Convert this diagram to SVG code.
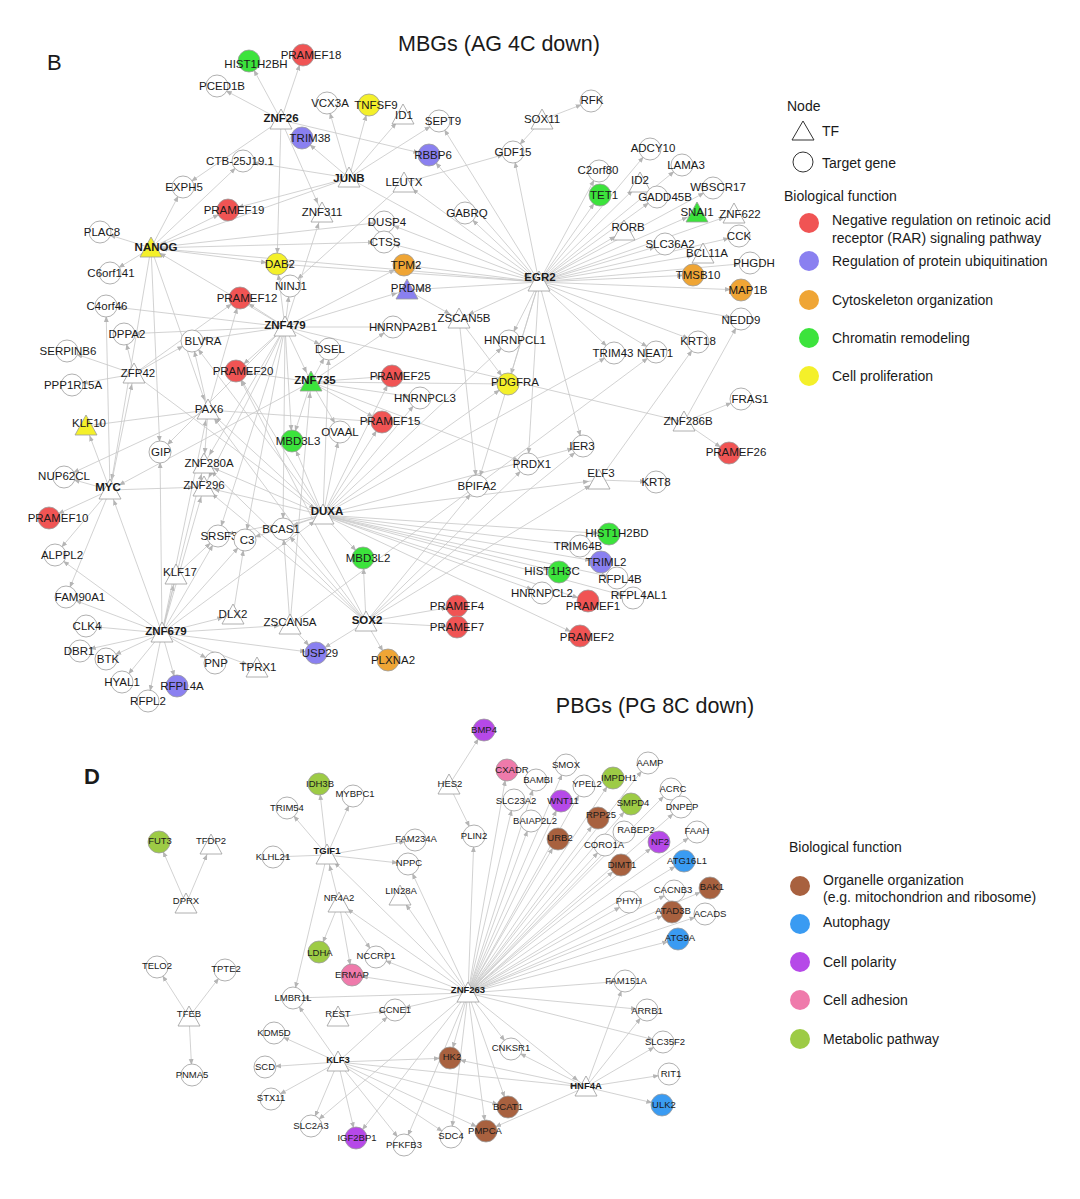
<svg xmlns="http://www.w3.org/2000/svg" xmlns:xlink="http://www.w3.org/1999/xlink" width="1080" height="1199" viewBox="0 0 1080 1199">
<style>
text{font-family:"Liberation Sans",Arial,sans-serif;fill:#1a1a1a}
.n text{font-size:11.5px;text-anchor:middle}
.s text{font-size:9.5px;text-anchor:middle}
.b{font-weight:bold}
.e line{stroke:#c6c6c6;stroke-width:0.8;marker-end:url(#a)}
.c{fill:#fff;stroke:#9c9c9c;stroke-width:0.8}
.red{fill:#f05454}.pur{fill:#8a80f0}.org{fill:#efa535}.grn{fill:#3ce33c}.yel{fill:#f4f02a}
.brn{fill:#a8613f}.blu{fill:#3a9bf2}.mag{fill:#b649e8}.pnk{fill:#ef7aab}.lgr{fill:#9dcb45}
.title{font-size:21.5px}
.lg{font-size:14px}
</style>
<defs>
<marker id="a" viewBox="0 0 20 6" refX="16" refY="3" markerWidth="20" markerHeight="6" markerUnits="userSpaceOnUse" orient="auto"><path d="M0,0.6 L6,3 L0,5.4z" fill="#b5b5b5"/></marker>
<path id="tri" d="M-11,9 L0,-11 L11,9z"/>
</defs>
<rect width="1080" height="1199" fill="#fff"/>
<text x="47" y="70" style="font-size:22px">B</text>
<text class="title" x="499" y="51" text-anchor="middle">MBGs (AG 4C down)</text>
<text x="84" y="784" style="font-size:22px;font-weight:bold">D</text>
<text class="title" x="655" y="713" text-anchor="middle">PBGs (PG 8C down)</text>

<g id="connectors" class="e">
<line x1="281" y1="120" x2="249" y2="61"/><line x1="281" y1="120" x2="303" y2="55"/><line x1="281" y1="120" x2="217" y2="86"/><line x1="281" y1="120" x2="183" y2="187"/><line x1="281" y1="120" x2="277" y2="264"/><line x1="281" y1="120" x2="322" y2="213"/><line x1="281" y1="120" x2="429" y2="155"/>
<line x1="349" y1="178" x2="327" y2="103"/><line x1="349" y1="178" x2="369" y2="105"/><line x1="349" y1="178" x2="403" y2="115"/><line x1="349" y1="178" x2="439" y2="121"/><line x1="349" y1="178" x2="302" y2="138"/><line x1="349" y1="178" x2="243" y2="161"/><line x1="349" y1="178" x2="539" y2="282"/><line x1="349" y1="178" x2="151" y2="248"/><line x1="349" y1="178" x2="228" y2="210"/>
<line x1="404" y1="183" x2="290" y2="286"/><line x1="404" y1="183" x2="513" y2="152"/><line x1="539" y1="282" x2="404" y2="183"/>
<line x1="151" y1="248" x2="100" y2="232"/><line x1="151" y1="248" x2="183" y2="187"/><line x1="151" y1="248" x2="243" y2="161"/><line x1="151" y1="248" x2="110" y2="273"/><line x1="151" y1="248" x2="277" y2="264"/><line x1="151" y1="248" x2="384" y2="222"/><line x1="151" y1="248" x2="384" y2="242"/><line x1="151" y1="248" x2="160" y2="452"/><line x1="151" y1="248" x2="228" y2="210"/><line x1="151" y1="248" x2="208" y2="410"/><line x1="151" y1="248" x2="110" y2="490"/><line x1="539" y1="282" x2="151" y2="248"/>
<line x1="285" y1="327" x2="240" y2="298"/><line x1="285" y1="327" x2="277" y2="264"/><line x1="285" y1="327" x2="290" y2="286"/><line x1="285" y1="327" x2="106" y2="306"/><line x1="285" y1="327" x2="124" y2="334"/><line x1="285" y1="327" x2="192" y2="341"/><line x1="285" y1="327" x2="236" y2="371"/><line x1="285" y1="327" x2="329" y2="349"/><line x1="285" y1="327" x2="292" y2="441"/><line x1="285" y1="327" x2="311" y2="382"/><line x1="285" y1="327" x2="407" y2="290"/><line x1="285" y1="327" x2="684" y2="422"/><line x1="285" y1="327" x2="404" y2="265"/><line x1="285" y1="327" x2="393" y2="327"/><line x1="285" y1="327" x2="204" y2="487"/><line x1="285" y1="327" x2="218" y2="536"/><line x1="285" y1="327" x2="283" y2="529"/><line x1="285" y1="327" x2="322" y2="213"/><line x1="285" y1="327" x2="151" y2="248"/><line x1="285" y1="327" x2="204" y2="464"/><line x1="285" y1="327" x2="245" y2="540"/><line x1="285" y1="327" x2="160" y2="452"/>
<line x1="311" y1="382" x2="329" y2="349"/><line x1="311" y1="382" x2="392" y2="376"/><line x1="311" y1="382" x2="420" y2="398"/><line x1="311" y1="382" x2="382" y2="422"/><line x1="311" y1="382" x2="340" y2="432"/><line x1="311" y1="382" x2="292" y2="441"/><line x1="311" y1="382" x2="508" y2="384"/><line x1="311" y1="382" x2="393" y2="327"/><line x1="311" y1="382" x2="528" y2="464"/><line x1="311" y1="382" x2="236" y2="371"/><line x1="311" y1="382" x2="110" y2="490"/>
<line x1="323" y1="515" x2="609" y2="534"/><line x1="323" y1="515" x2="580" y2="546"/><line x1="323" y1="515" x2="601" y2="562"/><line x1="323" y1="515" x2="559" y2="572"/><line x1="323" y1="515" x2="617" y2="578"/><line x1="323" y1="515" x2="633" y2="598"/><line x1="323" y1="515" x2="542" y2="593"/><line x1="323" y1="515" x2="588" y2="601"/><line x1="323" y1="515" x2="580" y2="636"/><line x1="323" y1="515" x2="363" y2="558"/><line x1="323" y1="515" x2="283" y2="529"/><line x1="323" y1="515" x2="218" y2="536"/><line x1="323" y1="515" x2="245" y2="540"/><line x1="323" y1="515" x2="292" y2="441"/><line x1="323" y1="515" x2="340" y2="432"/><line x1="323" y1="515" x2="382" y2="422"/><line x1="323" y1="515" x2="392" y2="376"/><line x1="323" y1="515" x2="420" y2="398"/><line x1="323" y1="515" x2="508" y2="384"/><line x1="323" y1="515" x2="509" y2="341"/><line x1="323" y1="515" x2="236" y2="371"/><line x1="323" y1="515" x2="204" y2="487"/><line x1="323" y1="515" x2="583" y2="446"/><line x1="323" y1="515" x2="208" y2="410"/><line x1="323" y1="515" x2="192" y2="341"/><line x1="323" y1="515" x2="329" y2="349"/><line x1="323" y1="515" x2="204" y2="464"/><line x1="323" y1="515" x2="599" y2="480"/><line x1="323" y1="515" x2="614" y2="353"/>
<line x1="110" y1="490" x2="64" y2="477"/><line x1="110" y1="490" x2="49" y2="518"/><line x1="110" y1="490" x2="55" y2="555"/><line x1="110" y1="490" x2="66" y2="597"/><line x1="110" y1="490" x2="86" y2="426"/><line x1="110" y1="490" x2="134" y2="374"/><line x1="110" y1="490" x2="204" y2="487"/><line x1="110" y1="490" x2="106" y2="306"/>
<line x1="162" y1="633" x2="110" y2="490"/><line x1="162" y1="633" x2="55" y2="555"/><line x1="162" y1="633" x2="66" y2="597"/><line x1="162" y1="633" x2="86" y2="626"/><line x1="162" y1="633" x2="80" y2="651"/><line x1="162" y1="633" x2="106" y2="659"/><line x1="162" y1="633" x2="122" y2="682"/><line x1="162" y1="633" x2="148" y2="701"/><line x1="162" y1="633" x2="177" y2="686"/><line x1="162" y1="633" x2="215" y2="663"/><line x1="162" y1="633" x2="176" y2="575"/><line x1="162" y1="633" x2="218" y2="536"/><line x1="162" y1="633" x2="245" y2="540"/><line x1="162" y1="633" x2="233" y2="615"/><line x1="162" y1="633" x2="290" y2="625"/><line x1="162" y1="633" x2="257" y2="668"/><line x1="162" y1="633" x2="316" y2="653"/><line x1="162" y1="633" x2="204" y2="487"/><line x1="162" y1="633" x2="204" y2="464"/><line x1="162" y1="633" x2="208" y2="410"/><line x1="162" y1="633" x2="160" y2="452"/><line x1="162" y1="633" x2="323" y2="515"/>
<line x1="366" y1="622" x2="363" y2="558"/><line x1="366" y1="622" x2="457" y2="606"/><line x1="366" y1="622" x2="457" y2="627"/><line x1="366" y1="622" x2="316" y2="653"/><line x1="366" y1="622" x2="388" y2="660"/><line x1="366" y1="622" x2="477" y2="486"/><line x1="366" y1="622" x2="528" y2="464"/><line x1="366" y1="622" x2="583" y2="446"/><line x1="366" y1="622" x2="599" y2="480"/><line x1="366" y1="622" x2="283" y2="529"/><line x1="366" y1="622" x2="204" y2="487"/><line x1="366" y1="622" x2="208" y2="410"/><line x1="366" y1="622" x2="204" y2="464"/><line x1="366" y1="622" x2="236" y2="371"/>
<line x1="290" y1="625" x2="316" y2="653"/><line x1="290" y1="625" x2="656" y2="352"/><line x1="290" y1="625" x2="283" y2="529"/><line x1="290" y1="625" x2="311" y2="382"/>
<line x1="233" y1="615" x2="245" y2="540"/><line x1="176" y1="575" x2="218" y2="536"/>
<line x1="134" y1="374" x2="124" y2="334"/><line x1="134" y1="374" x2="67" y2="351"/><line x1="134" y1="374" x2="72" y2="385"/><line x1="134" y1="374" x2="240" y2="298"/><line x1="134" y1="374" x2="192" y2="341"/><line x1="134" y1="374" x2="323" y2="515"/>
<line x1="208" y1="410" x2="192" y2="341"/><line x1="208" y1="410" x2="86" y2="426"/><line x1="208" y1="410" x2="64" y2="477"/><line x1="208" y1="410" x2="204" y2="464"/><line x1="208" y1="410" x2="382" y2="422"/><line x1="208" y1="410" x2="240" y2="298"/>
<line x1="684" y1="422" x2="741" y2="399"/><line x1="684" y1="422" x2="729" y2="453"/><line x1="684" y1="422" x2="741" y2="319"/>
<line x1="599" y1="480" x2="656" y2="482"/><line x1="599" y1="480" x2="698" y2="342"/>
<line x1="459" y1="319" x2="477" y2="486"/><line x1="459" y1="319" x2="508" y2="384"/><line x1="407" y1="290" x2="459" y2="319"/>
<line x1="542" y1="120" x2="513" y2="152"/><line x1="542" y1="120" x2="591" y2="101"/>
<line x1="539" y1="282" x2="439" y2="121"/><line x1="539" y1="282" x2="429" y2="155"/><line x1="539" y1="282" x2="513" y2="152"/><line x1="539" y1="282" x2="465" y2="213"/><line x1="539" y1="282" x2="384" y2="222"/><line x1="539" y1="282" x2="384" y2="242"/><line x1="539" y1="282" x2="404" y2="265"/><line x1="539" y1="282" x2="277" y2="264"/><line x1="539" y1="282" x2="407" y2="290"/><line x1="539" y1="282" x2="599" y2="171"/><line x1="539" y1="282" x2="600" y2="195"/><line x1="539" y1="282" x2="640" y2="183"/><line x1="539" y1="282" x2="650" y2="149"/><line x1="539" y1="282" x2="682" y2="165"/><line x1="539" y1="282" x2="657" y2="197"/><line x1="539" y1="282" x2="713" y2="188"/><line x1="539" y1="282" x2="697" y2="213"/><line x1="539" y1="282" x2="734" y2="214"/><line x1="539" y1="282" x2="624" y2="231"/><line x1="539" y1="282" x2="665" y2="244"/><line x1="539" y1="282" x2="739" y2="236"/><line x1="539" y1="282" x2="703" y2="254"/><line x1="539" y1="282" x2="750" y2="263"/><line x1="539" y1="282" x2="693" y2="275"/><line x1="539" y1="282" x2="741" y2="290"/><line x1="539" y1="282" x2="741" y2="319"/><line x1="539" y1="282" x2="614" y2="353"/><line x1="539" y1="282" x2="656" y2="352"/><line x1="539" y1="282" x2="698" y2="342"/><line x1="539" y1="282" x2="509" y2="341"/><line x1="539" y1="282" x2="508" y2="384"/><line x1="539" y1="282" x2="528" y2="464"/><line x1="539" y1="282" x2="583" y2="446"/><line x1="539" y1="282" x2="459" y2="319"/><line x1="539" y1="282" x2="477" y2="486"/>

<line x1="449" y1="785" x2="484" y2="730"/><line x1="449" y1="785" x2="474" y2="836"/>
<line x1="468" y1="993" x2="474" y2="836"/><line x1="468" y1="993" x2="507" y2="770"/><line x1="468" y1="993" x2="514" y2="800"/><line x1="468" y1="993" x2="536" y2="780"/><line x1="468" y1="993" x2="531" y2="821"/><line x1="468" y1="993" x2="566" y2="765"/><line x1="468" y1="993" x2="561" y2="801"/><line x1="468" y1="993" x2="558" y2="839"/><line x1="468" y1="993" x2="584" y2="786"/><line x1="468" y1="993" x2="613" y2="778"/><line x1="468" y1="993" x2="598" y2="818"/><line x1="468" y1="993" x2="648" y2="763"/><line x1="468" y1="993" x2="631" y2="804"/><line x1="468" y1="993" x2="605" y2="845"/><line x1="468" y1="993" x2="624" y2="832"/><line x1="468" y1="993" x2="671" y2="789"/><line x1="468" y1="993" x2="681" y2="807"/><line x1="468" y1="993" x2="621" y2="865"/><line x1="468" y1="993" x2="659" y2="842"/><line x1="468" y1="993" x2="697" y2="832"/><line x1="468" y1="993" x2="684" y2="861"/><line x1="468" y1="993" x2="629" y2="902"/><line x1="468" y1="993" x2="674" y2="891"/><line x1="468" y1="993" x2="710" y2="888"/><line x1="468" y1="993" x2="672" y2="912"/><line x1="468" y1="993" x2="705" y2="914"/><line x1="468" y1="993" x2="678" y2="939"/><line x1="468" y1="993" x2="625" y2="981"/><line x1="468" y1="993" x2="647" y2="1010"/><line x1="468" y1="993" x2="663" y2="1042"/><line x1="468" y1="993" x2="511" y2="1049"/><line x1="468" y1="993" x2="450" y2="1058"/><line x1="468" y1="993" x2="508" y2="1107"/><line x1="468" y1="993" x2="486" y2="1131"/><line x1="468" y1="993" x2="451" y2="1137"/><line x1="468" y1="993" x2="356" y2="1138"/><line x1="468" y1="993" x2="404" y2="1145"/><line x1="468" y1="993" x2="293" y2="998"/><line x1="468" y1="993" x2="352" y2="975"/><line x1="468" y1="993" x2="376" y2="957"/><line x1="468" y1="993" x2="339" y2="903"/><line x1="468" y1="993" x2="400" y2="896"/><line x1="468" y1="993" x2="408" y2="864"/><line x1="468" y1="993" x2="327" y2="855"/><line x1="468" y1="993" x2="395" y2="1010"/><line x1="468" y1="993" x2="311" y2="1126"/><line x1="468" y1="993" x2="586" y2="1087"/>
<line x1="327" y1="855" x2="319" y2="784"/><line x1="327" y1="855" x2="287" y2="808"/><line x1="327" y1="855" x2="353" y2="796"/><line x1="327" y1="855" x2="273" y2="857"/><line x1="327" y1="855" x2="415" y2="840"/><line x1="327" y1="855" x2="408" y2="864"/><line x1="327" y1="855" x2="293" y2="998"/>
<line x1="339" y1="903" x2="327" y2="855"/><line x1="339" y1="903" x2="319" y2="952"/><line x1="339" y1="903" x2="352" y2="975"/><line x1="339" y1="903" x2="376" y2="957"/>
<line x1="338" y1="1062" x2="293" y2="998"/><line x1="338" y1="1062" x2="274" y2="1033"/><line x1="338" y1="1062" x2="265" y2="1067"/><line x1="338" y1="1062" x2="271" y2="1099"/><line x1="338" y1="1062" x2="311" y2="1126"/><line x1="338" y1="1062" x2="356" y2="1138"/><line x1="338" y1="1062" x2="404" y2="1145"/><line x1="338" y1="1062" x2="451" y2="1137"/><line x1="338" y1="1062" x2="395" y2="1010"/><line x1="338" y1="1062" x2="450" y2="1058"/><line x1="338" y1="1062" x2="486" y2="1131"/><line x1="338" y1="1062" x2="508" y2="1107"/><line x1="338" y1="1062" x2="586" y2="1087"/>
<line x1="338" y1="1017" x2="395" y2="1010"/>
<line x1="586" y1="1087" x2="625" y2="981"/><line x1="586" y1="1087" x2="647" y2="1010"/><line x1="586" y1="1087" x2="663" y2="1042"/><line x1="586" y1="1087" x2="669" y2="1074"/><line x1="586" y1="1087" x2="662" y2="1105"/><line x1="586" y1="1087" x2="486" y2="1131"/><line x1="586" y1="1087" x2="511" y2="1049"/><line x1="586" y1="1087" x2="450" y2="1058"/>
<line x1="186" y1="904" x2="159" y2="842"/><line x1="186" y1="904" x2="211" y2="845"/>
<line x1="189" y1="1017" x2="157" y2="967"/><line x1="189" y1="1017" x2="225" y2="970"/><line x1="189" y1="1017" x2="192" y2="1075"/>
</g>

<g class="n">
<g id="HIST1H2BH"><circle class="c grn" cx="249" cy="61" r="11"/><text x="256" y="68">HIST1H2BH</text></g>
<g id="PRAMEF18"><circle class="c red" cx="303" cy="55" r="11"/><text x="311" y="59">PRAMEF18</text></g>
<g id="PCED1B"><circle class="c" cx="217" cy="86" r="11"/><text x="222" y="90">PCED1B</text></g>
<g id="ZNF26"><use href="#tri" class="c" x="281" y="120"/><text class="b" x="281" y="122">ZNF26</text></g>
<g id="VCX3A"><circle class="c" cx="327" cy="103" r="11"/><text x="330" y="107">VCX3A</text></g>
<g id="TNFSF9"><circle class="c yel" cx="369" cy="105" r="11"/><text x="376" y="109">TNFSF9</text></g>
<g id="ID1"><use href="#tri" class="c" x="403" y="115"/><text x="404" y="119">ID1</text></g>
<g id="SEPT9"><circle class="c" cx="439" cy="121" r="11"/><text x="443" y="125">SEPT9</text></g>
<g id="SOX11"><use href="#tri" class="c" x="542" y="120"/><text x="542" y="123">SOX11</text></g>
<g id="RFK"><circle class="c" cx="591" cy="101" r="11"/><text x="592" y="104">RFK</text></g>
<g id="TRIM38"><circle class="c pur" cx="302" cy="138" r="11"/><text x="310" y="142">TRIM38</text></g>
<g id="RBBP6"><circle class="c pur" cx="429" cy="155" r="11"/><text x="433" y="159">RBBP6</text></g>
<g id="GDF15"><circle class="c" cx="513" cy="152" r="11"/><text x="513" y="156">GDF15</text></g>
<g id="CTB-25J19.1"><circle class="c" cx="243" cy="161" r="11"/><text x="240" y="165">CTB-25J19.1</text></g>
<g id="JUNB"><use href="#tri" class="c" x="349" y="178"/><text class="b" x="349" y="182">JUNB</text></g>
<g id="LEUTX"><use href="#tri" class="c" x="404" y="183"/><text x="404" y="186">LEUTX</text></g>
<g id="EXPH5"><circle class="c" cx="183" cy="187" r="11"/><text x="184" y="191">EXPH5</text></g>
<g id="PRAMEF19"><circle class="c red" cx="228" cy="210" r="11"/><text x="234" y="214">PRAMEF19</text></g>
<g id="ZNF311"><use href="#tri" class="c" x="322" y="213"/><text x="322" y="216">ZNF311</text></g>
<g id="GABRQ"><circle class="c" cx="465" cy="213" r="11"/><text x="467" y="217">GABRQ</text></g>
<g id="DUSP4"><circle class="c" cx="384" cy="222" r="11"/><text x="387" y="226">DUSP4</text></g>
<g id="PLAC8"><circle class="c" cx="100" cy="232" r="11"/><text x="102" y="236">PLAC8</text></g>
<g id="NANOG"><use href="#tri" class="c yel" x="151" y="248"/><text class="b" x="156" y="251">NANOG</text></g>
<g id="CTSS"><circle class="c" cx="384" cy="242" r="11"/><text x="385" y="246">CTSS</text></g>
<g id="DAB2"><circle class="c yel" cx="277" cy="264" r="11"/><text x="280" y="268">DAB2</text></g>
<g id="TPM2"><circle class="c org" cx="404" cy="265" r="11"/><text x="406" y="269">TPM2</text></g>
<g id="C6orf141"><circle class="c" cx="110" cy="273" r="11"/><text x="111" y="277">C6orf141</text></g>
<g id="NINJ1"><circle class="c" cx="290" cy="286" r="11"/><text x="291" y="290">NINJ1</text></g>
<g id="PRDM8"><use href="#tri" class="c pur" x="407" y="290"/><text x="411" y="292">PRDM8</text></g>
<g id="EGR2"><use href="#tri" class="c" x="539" y="282"/><text class="b" x="540" y="281">EGR2</text></g>
<g id="C4orf46"><circle class="c" cx="106" cy="306" r="11"/><text x="107" y="310">C4orf46</text></g>
<g id="PRAMEF12"><circle class="c red" cx="240" cy="298" r="11"/><text x="247" y="302">PRAMEF12</text></g>
<g id="ZSCAN5B"><use href="#tri" class="c" x="459" y="319"/><text x="464" y="322">ZSCAN5B</text></g>
<g id="ZNF479"><use href="#tri" class="c" x="285" y="327"/><text class="b" x="285" y="329">ZNF479</text></g>
<g id="DPPA2"><circle class="c" cx="124" cy="334" r="11"/><text x="127" y="338">DPPA2</text></g>
<g id="HNRNPA2B1"><circle class="c" cx="393" cy="327" r="11"/><text x="403" y="331">HNRNPA2B1</text></g>
<g id="BLVRA"><circle class="c" cx="192" cy="341" r="11"/><text x="203" y="345">BLVRA</text></g>
<g id="HNRNPCL1"><circle class="c" cx="509" cy="341" r="11"/><text x="515" y="344">HNRNPCL1</text></g>
<g id="DSEL"><circle class="c" cx="329" cy="349" r="11"/><text x="330" y="353">DSEL</text></g>
<g id="SERPINB6"><circle class="c" cx="67" cy="351" r="11"/><text x="68" y="355">SERPINB6</text></g>
<g id="ZFP42"><use href="#tri" class="c" x="134" y="374"/><text x="138" y="377">ZFP42</text></g>
<g id="PRAMEF20"><circle class="c red" cx="236" cy="371" r="11"/><text x="243" y="375">PRAMEF20</text></g>
<g id="ZNF735"><use href="#tri" class="c grn" x="311" y="382"/><text class="b" x="315" y="384">ZNF735</text></g>
<g id="PRAMEF25"><circle class="c red" cx="392" cy="376" r="11"/><text x="400" y="380">PRAMEF25</text></g>
<g id="PDGFRA"><circle class="c yel" cx="508" cy="384" r="11"/><text x="515" y="386">PDGFRA</text></g>
<g id="PPP1R15A"><circle class="c" cx="72" cy="385" r="11"/><text x="73" y="389">PPP1R15A</text></g>
<g id="HNRNPCL3"><circle class="c" cx="420" cy="398" r="11"/><text x="425" y="402">HNRNPCL3</text></g>
<g id="PAX6"><use href="#tri" class="c" x="208" y="410"/><text x="209" y="413">PAX6</text></g>
<g id="KLF10"><use href="#tri" class="c yel" x="86" y="426"/><text x="89" y="427">KLF10</text></g>
<g id="PRAMEF15"><circle class="c red" cx="382" cy="422" r="11"/><text x="390" y="425">PRAMEF15</text></g>
<g id="MBD3L3"><circle class="c grn" cx="292" cy="441" r="11"/><text x="298" y="445">MBD3L3</text></g>
<g id="OVAAL"><circle class="c" cx="340" cy="432" r="11"/><text x="340" y="436">OVAAL</text></g>
<g id="GIP"><circle class="c" cx="160" cy="452" r="11"/><text x="161" y="456">GIP</text></g>
<g id="ZNF280A"><use href="#tri" class="c" x="204" y="464"/><text x="209" y="467">ZNF280A</text></g>
<g id="NUP62CL"><circle class="c" cx="64" cy="477" r="11"/><text x="64" y="480">NUP62CL</text></g>
<g id="MYC"><use href="#tri" class="c" x="110" y="490"/><text class="b" x="108" y="491">MYC</text></g>
<g id="ZNF296"><use href="#tri" class="c" x="204" y="487"/><text x="204" y="489">ZNF296</text></g>
<g id="DUXA"><use href="#tri" class="c" x="323" y="515"/><text class="b" x="327" y="515">DUXA</text></g>
<g id="PRDX1"><circle class="c" cx="528" cy="464" r="11"/><text x="532" y="468">PRDX1</text></g>
<g id="BPIFA2"><circle class="c" cx="477" cy="486" r="11"/><text x="477" y="490">BPIFA2</text></g>
<g id="PRAMEF10"><circle class="c red" cx="49" cy="518" r="11"/><text x="58" y="522">PRAMEF10</text></g>
<g id="BCAS1"><circle class="c" cx="283" cy="529" r="11"/><text x="281" y="533">BCAS1</text></g>
<g id="SRSF3"><circle class="c" cx="218" cy="536" r="11"/><text x="219" y="540">SRSF3</text></g>
<g id="C3"><circle class="c" cx="245" cy="540" r="11"/><text x="247" y="544">C3</text></g>
<g id="ALPPL2"><circle class="c" cx="55" cy="555" r="11"/><text x="62" y="559">ALPPL2</text></g>
<g id="MBD3L2"><circle class="c grn" cx="363" cy="558" r="11"/><text x="368" y="562">MBD3L2</text></g>
<g id="KLF17"><use href="#tri" class="c" x="176" y="575"/><text x="180" y="576">KLF17</text></g>
<g id="FAM90A1"><circle class="c" cx="66" cy="597" r="11"/><text x="80" y="601">FAM90A1</text></g>
<g id="DLX2"><use href="#tri" class="c" x="233" y="615"/><text x="233" y="618">DLX2</text></g>
<g id="ZSCAN5A"><use href="#tri" class="c" x="290" y="625"/><text x="290" y="626">ZSCAN5A</text></g>
<g id="SOX2"><use href="#tri" class="c" x="366" y="622"/><text class="b" x="367" y="624">SOX2</text></g>
<g id="CLK4"><circle class="c" cx="86" cy="626" r="11"/><text x="87" y="630">CLK4</text></g>
<g id="ZNF679"><use href="#tri" class="c" x="162" y="633"/><text class="b" x="166" y="635">ZNF679</text></g>
<g id="DBR1"><circle class="c" cx="80" cy="651" r="11"/><text x="79" y="655">DBR1</text></g>
<g id="BTK"><circle class="c" cx="106" cy="659" r="11"/><text x="108" y="663">BTK</text></g>
<g id="PNP"><circle class="c" cx="215" cy="663" r="11"/><text x="216" y="667">PNP</text></g>
<g id="TPRX1"><use href="#tri" class="c" x="257" y="668"/><text x="258" y="671">TPRX1</text></g>
<g id="USP29"><circle class="c pur" cx="316" cy="653" r="11"/><text x="320" y="657">USP29</text></g>
<g id="PLXNA2"><circle class="c org" cx="388" cy="660" r="11"/><text x="393" y="664">PLXNA2</text></g>
<g id="HYAL1"><circle class="c" cx="122" cy="682" r="11"/><text x="122" y="686">HYAL1</text></g>
<g id="RFPL4A"><circle class="c pur" cx="177" cy="686" r="11"/><text x="182" y="690">RFPL4A</text></g>
<g id="RFPL2"><circle class="c" cx="148" cy="701" r="11"/><text x="148" y="705">RFPL2</text></g>
<g id="PRAMEF4"><circle class="c red" cx="457" cy="606" r="11"/><text x="457" y="610">PRAMEF4</text></g>
<g id="PRAMEF7"><circle class="c red" cx="457" cy="627" r="11"/><text x="457" y="631">PRAMEF7</text></g>
<g id="HNRNPCL2"><circle class="c" cx="542" cy="593" r="11"/><text x="542" y="597">HNRNPCL2</text></g>
<g id="HIST1H3C"><circle class="c grn" cx="559" cy="572" r="11"/><text x="552" y="575">HIST1H3C</text></g>
<g id="HIST1H2BD"><circle class="c grn" cx="609" cy="534" r="11"/><text x="617" y="537">HIST1H2BD</text></g>
<g id="TRIM64B"><circle class="c" cx="580" cy="546" r="11"/><text x="578" y="550">TRIM64B</text></g>
<g id="TRIML2"><circle class="c pur" cx="601" cy="562" r="11"/><text x="606" y="566">TRIML2</text></g>
<g id="RFPL4B"><circle class="c" cx="617" cy="578" r="11"/><text x="620" y="583">RFPL4B</text></g>
<g id="RFPL4AL1"><circle class="c" cx="633" cy="598" r="11"/><text x="639" y="599">RFPL4AL1</text></g>
<g id="PRAMEF1"><circle class="c red" cx="588" cy="601" r="11"/><text x="593" y="610">PRAMEF1</text></g>
<g id="PRAMEF2"><circle class="c red" cx="580" cy="636" r="11"/><text x="587" y="641">PRAMEF2</text></g>
<g id="ADCY10"><circle class="c" cx="650" cy="149" r="11"/><text x="653" y="152">ADCY10</text></g>
<g id="C2orf80"><circle class="c" cx="599" cy="171" r="11"/><text x="598" y="174">C2orf80</text></g>
<g id="LAMA3"><circle class="c" cx="682" cy="165" r="11"/><text x="686" y="169">LAMA3</text></g>
<g id="ID2"><use href="#tri" class="c" x="640" y="183"/><text x="640" y="184">ID2</text></g>
<g id="TET1"><circle class="c grn" cx="600" cy="195" r="11"/><text x="604" y="199">TET1</text></g>
<g id="WBSCR17"><circle class="c" cx="713" cy="188" r="11"/><text x="718" y="191">WBSCR17</text></g>
<g id="GADD45B"><circle class="c" cx="657" cy="197" r="11"/><text x="665" y="201">GADD45B</text></g>
<g id="SNAI1"><use href="#tri" class="c grn" x="697" y="213"/><text x="697" y="216">SNAI1</text></g>
<g id="ZNF622"><use href="#tri" class="c" x="734" y="214"/><text x="740" y="218">ZNF622</text></g>
<g id="RORB"><use href="#tri" class="c" x="624" y="231"/><text x="628" y="231">RORB</text></g>
<g id="CCK"><circle class="c" cx="739" cy="236" r="11"/><text x="739" y="240">CCK</text></g>
<g id="SLC36A2"><circle class="c" cx="665" cy="244" r="11"/><text x="670" y="248">SLC36A2</text></g>
<g id="BCL11A"><use href="#tri" class="c" x="703" y="254"/><text x="707" y="257">BCL11A</text></g>
<g id="PHGDH"><circle class="c" cx="750" cy="263" r="11"/><text x="754" y="267">PHGDH</text></g>
<g id="TMSB10"><circle class="c org" cx="693" cy="275" r="11"/><text x="698" y="279">TMSB10</text></g>
<g id="MAP1B"><circle class="c org" cx="741" cy="290" r="11"/><text x="748" y="294">MAP1B</text></g>
<g id="NEDD9"><circle class="c" cx="741" cy="319" r="11"/><text x="741" y="324">NEDD9</text></g>
<g id="TRIM43"><circle class="c" cx="614" cy="353" r="11"/><text x="613" y="357">TRIM43</text></g>
<g id="NEAT1"><circle class="c" cx="656" cy="352" r="11"/><text x="655" y="357">NEAT1</text></g>
<g id="KRT18"><circle class="c" cx="698" cy="342" r="11"/><text x="698" y="345">KRT18</text></g>
<g id="FRAS1"><circle class="c" cx="741" cy="399" r="11"/><text x="750" y="403">FRAS1</text></g>
<g id="ZNF286B"><use href="#tri" class="c" x="684" y="422"/><text x="688" y="425">ZNF286B</text></g>
<g id="PRAMEF26"><circle class="c red" cx="729" cy="453" r="11"/><text x="736" y="456">PRAMEF26</text></g>
<g id="IER3"><circle class="c" cx="583" cy="446" r="11"/><text x="582" y="450">IER3</text></g>
<g id="ELF3"><use href="#tri" class="c" x="599" y="480"/><text x="601" y="477">ELF3</text></g>
<g id="KRT8"><circle class="c" cx="656" cy="482" r="11"/><text x="656" y="486">KRT8</text></g>
</g>

<g class="s">
<g id="BMP4"><circle class="c mag" cx="484" cy="730" r="11"/><text x="484" y="733">BMP4</text></g>
<g id="HES2"><use href="#tri" class="c" x="449" y="785"/><text x="450" y="787">HES2</text></g>
<g id="CXADR"><circle class="c pnk" cx="507" cy="770" r="11"/><text x="512" y="773">CXADR</text></g>
<g id="SMOX"><circle class="c" cx="566" cy="765" r="11"/><text x="566" y="768">SMOX</text></g>
<g id="AAMP"><circle class="c" cx="648" cy="763" r="11"/><text x="650" y="766">AAMP</text></g>
<g id="BAMBI"><circle class="c" cx="536" cy="780" r="11"/><text x="538" y="783">BAMBI</text></g>
<g id="YPEL2"><circle class="c" cx="584" cy="786" r="11"/><text x="587" y="787">YPEL2</text></g>
<g id="IMPDH1"><circle class="c lgr" cx="613" cy="778" r="11"/><text x="619" y="781">IMPDH1</text></g>
<g id="ACRC"><circle class="c" cx="671" cy="789" r="11"/><text x="673" y="792">ACRC</text></g>
<g id="SLC23A2"><circle class="c" cx="514" cy="800" r="11"/><text x="516" y="804">SLC23A2</text></g>
<g id="WNT11"><circle class="c mag" cx="561" cy="801" r="11"/><text x="563" y="804">WNT11</text></g>
<g id="SMPD4"><circle class="c lgr" cx="631" cy="804" r="11"/><text x="633" y="806">SMPD4</text></g>
<g id="DNPEP"><circle class="c" cx="681" cy="807" r="11"/><text x="682" y="810">DNPEP</text></g>
<g id="RPP25"><circle class="c brn" cx="598" cy="818" r="11"/><text x="601" y="818">RPP25</text></g>
<g id="BAIAP2L2"><circle class="c" cx="531" cy="821" r="11"/><text x="535" y="824">BAIAP2L2</text></g>
<g id="PLIN2"><circle class="c" cx="474" cy="836" r="11"/><text x="474" y="839">PLIN2</text></g>
<g id="URB2"><circle class="c brn" cx="558" cy="839" r="11"/><text x="560" y="841">URB2</text></g>
<g id="RABEP2"><circle class="c" cx="624" cy="832" r="11"/><text x="636" y="833">RABEP2</text></g>
<g id="FAAH"><circle class="c" cx="697" cy="832" r="11"/><text x="697" y="834">FAAH</text></g>
<g id="CORO1A"><circle class="c" cx="605" cy="845" r="11"/><text x="604" y="848">CORO1A</text></g>
<g id="NF2"><circle class="c mag" cx="659" cy="842" r="11"/><text x="660" y="845">NF2</text></g>
<g id="ATG16L1"><circle class="c blu" cx="684" cy="861" r="11"/><text x="687" y="864">ATG16L1</text></g>
<g id="DIMT1"><circle class="c brn" cx="621" cy="865" r="11"/><text x="622" y="868">DIMT1</text></g>
<g id="BAK1"><circle class="c brn" cx="710" cy="888" r="11"/><text x="712" y="890">BAK1</text></g>
<g id="CACNB3"><circle class="c" cx="674" cy="891" r="11"/><text x="673" y="893">CACNB3</text></g>
<g id="PHYH"><circle class="c" cx="629" cy="902" r="11"/><text x="629" y="904">PHYH</text></g>
<g id="ATAD3B"><circle class="c brn" cx="672" cy="912" r="11"/><text x="673" y="914">ATAD3B</text></g>
<g id="ACADS"><circle class="c" cx="705" cy="914" r="11"/><text x="710" y="917">ACADS</text></g>
<g id="ATG9A"><circle class="c blu" cx="678" cy="939" r="11"/><text x="680" y="941">ATG9A</text></g>
<g id="FAM151A"><circle class="c" cx="625" cy="981" r="11"/><text x="626" y="984">FAM151A</text></g>
<g id="ZNF263"><use href="#tri" class="c" x="468" y="993"/><text class="b" x="468" y="993">ZNF263</text></g>
<g id="ARRB1"><circle class="c" cx="647" cy="1010" r="11"/><text x="647" y="1014">ARRB1</text></g>
<g id="SLC35F2"><circle class="c" cx="663" cy="1042" r="11"/><text x="665" y="1045">SLC35F2</text></g>
<g id="CNKSR1"><circle class="c" cx="511" cy="1049" r="11"/><text x="511" y="1051">CNKSR1</text></g>
<g id="HK2"><circle class="c brn" cx="450" cy="1058" r="11"/><text x="452" y="1060">HK2</text></g>
<g id="RIT1"><circle class="c" cx="669" cy="1074" r="11"/><text x="671" y="1077">RIT1</text></g>
<g id="HNF4A"><use href="#tri" class="c" x="586" y="1087"/><text class="b" x="586" y="1089">HNF4A</text></g>
<g id="BCAT1"><circle class="c brn" cx="508" cy="1107" r="11"/><text x="508" y="1110">BCAT1</text></g>
<g id="ULK2"><circle class="c blu" cx="662" cy="1105" r="11"/><text x="664" y="1108">ULK2</text></g>
<g id="PMPCA"><circle class="c brn" cx="486" cy="1131" r="11"/><text x="485" y="1134">PMPCA</text></g>
<g id="SDC4"><circle class="c" cx="451" cy="1137" r="11"/><text x="451" y="1139">SDC4</text></g>
<g id="PFKFB3"><circle class="c" cx="404" cy="1145" r="11"/><text x="404" y="1148">PFKFB3</text></g>
<g id="IGF2BP1"><circle class="c mag" cx="356" cy="1138" r="11"/><text x="357" y="1141">IGF2BP1</text></g>
<g id="SLC2A3"><circle class="c" cx="311" cy="1126" r="11"/><text x="311" y="1129">SLC2A3</text></g>
<g id="STX11"><circle class="c" cx="271" cy="1099" r="11"/><text x="271" y="1101">STX11</text></g>
<g id="SCD"><circle class="c" cx="265" cy="1067" r="11"/><text x="265" y="1070">SCD</text></g>
<g id="KLF3"><use href="#tri" class="c" x="338" y="1062"/><text class="b" x="338" y="1063">KLF3</text></g>
<g id="KDM5D"><circle class="c" cx="274" cy="1033" r="11"/><text x="274" y="1036">KDM5D</text></g>
<g id="REST"><use href="#tri" class="c" x="338" y="1017"/><text x="338" y="1017">REST</text></g>
<g id="CCNE1"><circle class="c" cx="395" cy="1010" r="11"/><text x="395" y="1013">CCNE1</text></g>
<g id="LMBR1L"><circle class="c" cx="293" cy="998" r="11"/><text x="293" y="1001">LMBR1L</text></g>
<g id="ERMAP"><circle class="c pnk" cx="352" cy="975" r="11"/><text x="352" y="978">ERMAP</text></g>
<g id="NCCRP1"><circle class="c" cx="376" cy="957" r="11"/><text x="376" y="959">NCCRP1</text></g>
<g id="LDHA"><circle class="c lgr" cx="319" cy="952" r="11"/><text x="320" y="956">LDHA</text></g>
<g id="NR4A2"><use href="#tri" class="c" x="339" y="903"/><text x="339" y="901">NR4A2</text></g>
<g id="LIN28A"><use href="#tri" class="c" x="400" y="896"/><text x="401" y="894">LIN28A</text></g>
<g id="NPPC"><circle class="c" cx="408" cy="864" r="11"/><text x="409" y="866">NPPC</text></g>
<g id="FAM234A"><circle class="c" cx="415" cy="840" r="11"/><text x="416" y="842">FAM234A</text></g>
<g id="TGIF1"><use href="#tri" class="c" x="327" y="855"/><text class="b" x="327" y="854">TGIF1</text></g>
<g id="KLHL21"><circle class="c" cx="273" cy="857" r="11"/><text x="273" y="860">KLHL21</text></g>
<g id="TRIM54"><circle class="c" cx="287" cy="808" r="11"/><text x="287" y="811">TRIM54</text></g>
<g id="IDH3B"><circle class="c lgr" cx="319" cy="784" r="11"/><text x="320" y="787">IDH3B</text></g>
<g id="MYBPC1"><circle class="c" cx="353" cy="796" r="11"/><text x="355" y="797">MYBPC1</text></g>
<g id="FUT3"><circle class="c lgr" cx="159" cy="842" r="11"/><text x="160" y="844">FUT3</text></g>
<g id="TFDP2"><use href="#tri" class="c" x="211" y="845"/><text x="211" y="844">TFDP2</text></g>
<g id="DPRX"><use href="#tri" class="c" x="186" y="904"/><text x="186" y="904">DPRX</text></g>
<g id="TELO2"><circle class="c" cx="157" cy="967" r="11"/><text x="157" y="969">TELO2</text></g>
<g id="TPTE2"><circle class="c" cx="225" cy="970" r="11"/><text x="226" y="972">TPTE2</text></g>
<g id="TFEB"><use href="#tri" class="c" x="189" y="1017"/><text x="189" y="1017">TFEB</text></g>
<g id="PNMA5"><circle class="c" cx="192" cy="1075" r="11"/><text x="192" y="1078">PNMA5</text></g>
</g>

<g id="legend-top">
<text x="787" y="111" style="font-size:14px">Node</text>
<path d="M792,140 L803,121 L814,140z" fill="none" stroke="#333" stroke-width="1"/>
<text class="lg" x="822" y="136">TF</text>
<circle cx="803" cy="162" r="10" fill="none" stroke="#333" stroke-width="1"/>
<text class="lg" x="822" y="168">Target gene</text>
<text class="lg" x="784" y="201">Biological function</text>
<circle class="red" cx="809" cy="223" r="10"/>
<text class="lg" x="832" y="225">Negative regulation on retinoic acid</text>
<text class="lg" x="832" y="243">receptor (RAR) signaling pathway</text>
<circle class="pur" cx="809" cy="261" r="10"/>
<text class="lg" x="832" y="266">Regulation of protein ubiquitination</text>
<circle class="org" cx="809" cy="300" r="10"/>
<text class="lg" x="832" y="305">Cytoskeleton organization</text>
<circle class="grn" cx="809" cy="338" r="10"/>
<text class="lg" x="832" y="343">Chromatin remodeling</text>
<circle class="yel" cx="809" cy="376" r="10"/>
<text class="lg" x="832" y="381">Cell proliferation</text>
</g>
<g id="legend-bottom">
<text class="lg" x="789" y="852">Biological function</text>
<circle class="brn" cx="800" cy="886" r="10"/>
<text class="lg" x="823" y="885">Organelle organization</text>
<text class="lg" x="823" y="902">(e.g. mitochondrion and ribosome)</text>
<circle class="blu" cx="800" cy="924" r="10"/>
<text class="lg" x="823" y="927">Autophagy</text>
<circle class="mag" cx="800" cy="962" r="10"/>
<text class="lg" x="823" y="967">Cell polarity</text>
<circle class="pnk" cx="800" cy="1000" r="10"/>
<text class="lg" x="823" y="1005">Cell adhesion</text>
<circle class="lgr" cx="800" cy="1039" r="10"/>
<text class="lg" x="823" y="1044">Metabolic pathway</text>
</g>
</svg>
